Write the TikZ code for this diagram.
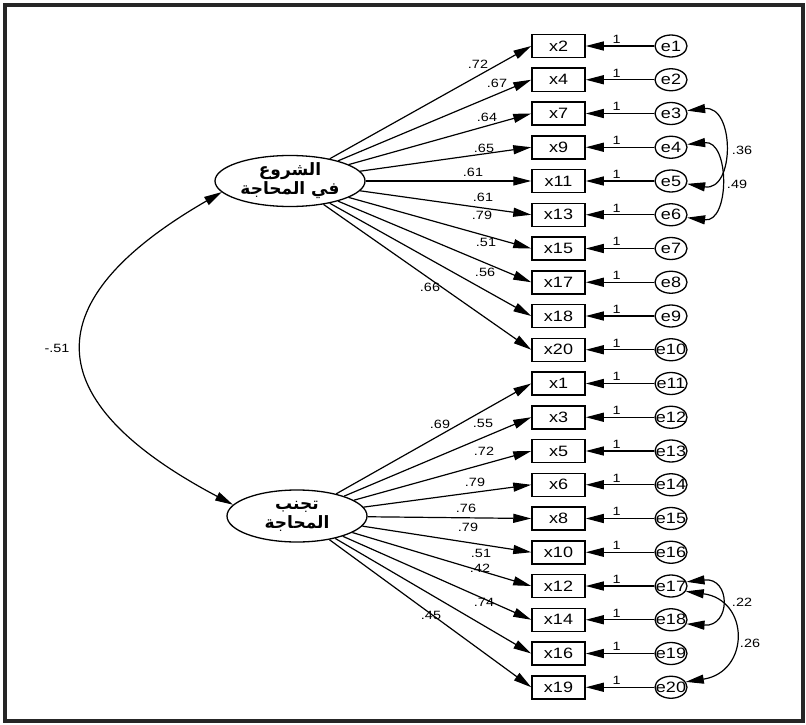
\documentclass[tikz,border=0pt]{standalone}
\usepackage{fontspec}
\setmainfont{Liberation Sans}
\newfontfamily\lblfont[FakeStretch=1.2]{Liberation Sans}
\newfontfamily\arabicfont[Script=Arabic]{DejaVu Sans}
\TeXXeTstate=1
\usepackage{tikz}
\usetikzlibrary{arrows.meta,shapes.geometric}

\tikzset{
  latent/.style={draw,ellipse,line width=1.3pt,inner sep=0pt,align=center,
    font=\arabicfont\bfseries\fontsize{17}{19}\selectfont},
  obs/.style={draw,rectangle,line width=1.5pt,minimum width=53pt,minimum height=23pt,
    inner sep=0pt,font=\lblfont\fontsize{15}{15}\selectfont},
  err/.style={draw,ellipse,line width=1.3pt,minimum width=32pt,minimum height=22pt,
    inner sep=-5pt,font=\lblfont\fontsize{15}{15}\selectfont},
  coef/.style={inner sep=0pt,font=\lblfont\fontsize{12}{12}\selectfont},
  reg/.style={line width=1.2pt,-{Triangle[length=18pt,width=9pt]}},
  cov/.style={line width=1.2pt,{Triangle[length=18pt,width=9pt]}-{Triangle[length=18pt,width=9pt]}}
}

\begin{document}
\begin{tikzpicture}[x=1pt,y=-1pt]
\useasboundingbox (0,0) rectangle (806,725);
\draw[line width=4.5pt,black!85] (5,5) rectangle (803,721);

% the two factors
\node[latent,minimum width=150pt,minimum height=48pt] (A) at (290,181)
  {\beginR الشروع\endR\\\beginR في المحاجة\endR};
\node[latent,minimum width=140pt,minimum height=52pt] (B) at (297,516)
  {\beginR تجنب\endR\\\beginR المحاجة\endR};

% items and their errors
\foreach \v [count=\i from 0] in {2,4,7,9,11,13,15,17,18,20,1,3,5,6,8,10,12,14,16,19} {
  \pgfmathtruncatemacro\e{\i+1}
  \node[obs] (x\v) at (558.5,46+33.75*\i) {x\v};
  \node[err] (e\e) at (671,46+33.75*\i) {e\e};
  \draw[reg] (e\e) -- (x\v) node[coef,pos=0.55,anchor=south,yshift=2pt] (one\e) {1};
}

% loadings
\foreach \v/\lx/\ly/\w in {2/478/64/.72,4/497/83/.67,7/487/117/.64,9/484/148/.65,
    11/473/172/.61,13/483/197/.61,15/482/215/.79,17/486/242/.51,18/485/272/.56,20/430/287/.66} {
  \draw[reg] (A) -- (x\v.west);
  \node[coef] (l\v) at (\lx,\ly) {\w};
}
\foreach \v/\lx/\ly/\w in {1/440/424/.69,3/483/423/.55,5/484/451/.72,6/475/482/.79,
    8/466/508/.76,10/468/527/.79,12/481/553/.51,14/480/568/.42,16/484/602/.74,19/431/615/.45} {
  \draw[reg] (B) -- (x\v.west);
  \node[coef] (l\v) at (\lx,\ly) {\w};
}

% covariances
\coordinate (a1) at (222,192);
\draw[cov] (a1) .. controls (35,300) and (35,400) .. (B.170);
\node[coef] (rAB) at (57,348) {-.51};

\draw[cov] (e3.10) .. controls (735,105) and (735,192) .. (e5.-10);
\draw[cov] (e4.10) .. controls (730,140) and (730,223) .. (e6.-10);
\node[coef] (r35) at (742,150) {.36};
\node[coef] (r46) at (737,184) {.49};

\draw[cov] (e17.15) .. controls (731,577) and (731,627) .. (e18.-15);
\draw[cov] (e17.-20) .. controls (750,600) and (750,672) .. (e20.20);
\node[coef] (r1718) at (742,602) {.22};
\node[coef] (r1720) at (750,643) {.26};
\end{tikzpicture}
\end{document}
